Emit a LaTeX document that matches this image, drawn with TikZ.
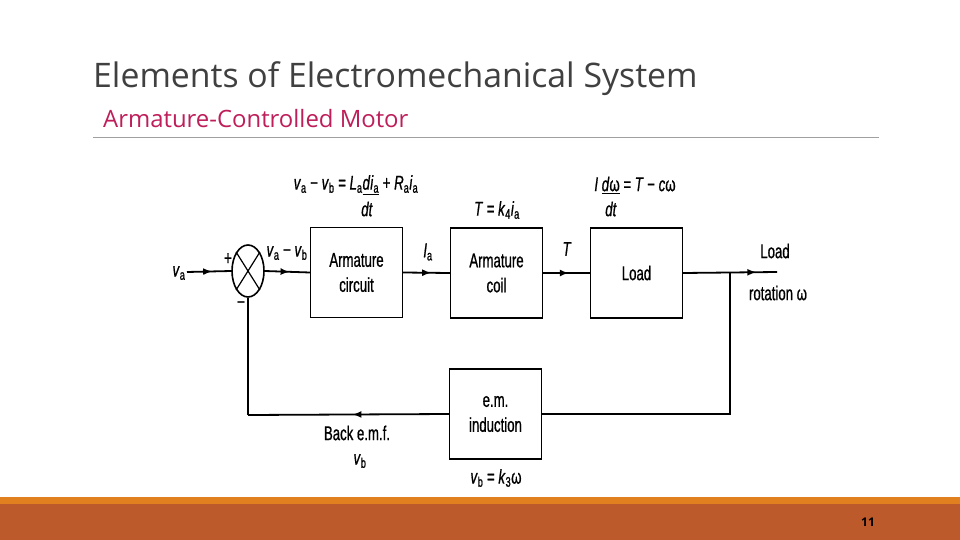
\documentclass[tikz,border=0pt]{standalone}
\usepackage{fontspec}
\setmainfont{Open Sans}
\newfontfamily\diag[FakeStretch=0.66,FakeBold=0.8]{Liberation Sans}
\usetikzlibrary{shapes.geometric,arrows.meta,decorations.markings}
\definecolor{titlegray}{RGB}{64,64,64}
\definecolor{subred}{RGB}{190,30,90}
\definecolor{footorange}{RGB}{224,128,30}
\definecolor{footrust}{RGB}{189,90,43}
\definecolor{rulegray}{RGB}{160,160,160}
\newcommand{\vs}[2]{\textit{#1}\textsubscript{#2}}
\tikzset{
  dfont/.style={font=\diag\fontsize{20}{25}\selectfont},
  blk/.style={draw, line width=1.3pt, minimum width=92pt, minimum height=90pt, align=center, inner sep=0pt, dfont},
  sig/.style={line width=1.8pt},
  midarrow/.style={postaction={decorate}, decoration={markings, mark=at position #1 with {\arrow{Latex[length=9pt,width=7pt]}}}},
  lbl/.style={dfont, inner sep=0pt},
}
\begin{document}
\begin{tikzpicture}[x=1pt,y=-1pt]
\useasboundingbox (0,0) rectangle (960,540);
\fill[white] (0,0) rectangle (960,540);
% header
\node[anchor=west, inner sep=0pt, text=titlegray, font=\fontsize{33.8}{38}\selectfont] (title) at (93,79) {Elements of Electromechanical System};
\node[anchor=west, inner sep=0pt, text=subred, font=\fontsize{23.9}{26}\selectfont] (sub) at (103,119) {Armature-Controlled Motor};
\draw[rulegray, line width=0.8pt] (93,137) -- (879,137);
% footer
\fill[footorange] (0,497) rectangle (960,504);
\fill[footrust] (0,504) rectangle (960,540);
\node[font=\bfseries\fontsize{12}{14}\selectfont, inner sep=0pt] (pg) at (868,522) {11};
% blocks
\node[draw, ellipse, line width=1.6pt, minimum width=32pt, minimum height=52pt, inner sep=0pt] (sum) at (248,271) {};
\draw[line width=1.2pt] (sum.north east) -- (sum.south west) (sum.north west) -- (sum.south east);
\node[blk] (ac) at (356.5,272.5) {Armature\\circuit};
\node[blk] (coil) at (496.5,273) {Armature\\coil};
\node[blk] (load) at (636.5,273) {Load};
\node[blk] (em) at (495.5,414) {e.m.\\induction};
% coordinates
\coordinate (vin) at (187,272);
\coordinate (out) at (777,272);
\coordinate (br) at (730,272);
\coordinate (fbc) at (248,415);
% connectors
\draw[sig, midarrow=0.57] (vin) -- (sum.west);
\draw[sig, midarrow=0.55] (sum.east) -- (ac.west);
\draw[sig, midarrow=0.6] (ac.east) -- (coil.west);
\draw[sig, midarrow=0.55] (coil.east) -- (load.west);
\draw[sig, midarrow=0.78] (load.east) -- (out);
\draw[sig] (br) |- (em.east);
\draw[sig, midarrow=0.48] (em.west) -- (fbc);
\draw[sig] (fbc) -- (sum.south);
% labels
\node[lbl] (lva) at (179,273) {\vs{v}{a}};
\node[lbl] (lplus) at (228,259) {+};
\node[lbl] (lminus) at (241,305) {−};
\node[lbl] (lvavb) at (287,253) {\vs{v}{a} − \vs{v}{b}};
\node[lbl] (lia) at (428,252) {\vs{I}{a}};
\node[lbl] (lT) at (567,249) {\textit{T}};
\node[lbl] (lload) at (775,251) {Load};
\node[lbl] (lrot) at (778,293) {rotation ω};
\node[lbl] (lback) at (357,433) {Back e.m.f.};
\node[lbl] (lvb) at (360,461) {\vs{v}{b}};
\node[lbl] (lk3) at (496,478) {\vs{v}{b} = \vs{k}{3}ω};
\node[lbl] (eq1) at (356,185) {\vs{v}{a} − \vs{v}{b} = \vs{L}{a}\underline{\textit{d}\vs{i}{a}} + \vs{R}{a}\vs{i}{a}};
\node[lbl] (eq1b) at (367,209) {\textit{dt}};
\node[lbl] (eq2) at (497,210) {\textit{T} = \vs{k}{4}\vs{i}{a}};
\node[lbl] (eq3) at (635,185) {\textit{I} \underline{\textit{d}ω} = \textit{T} − \textit{c}ω};
\node[lbl] (eq3b) at (611,209) {\textit{dt}};
\end{tikzpicture}
\end{document}
